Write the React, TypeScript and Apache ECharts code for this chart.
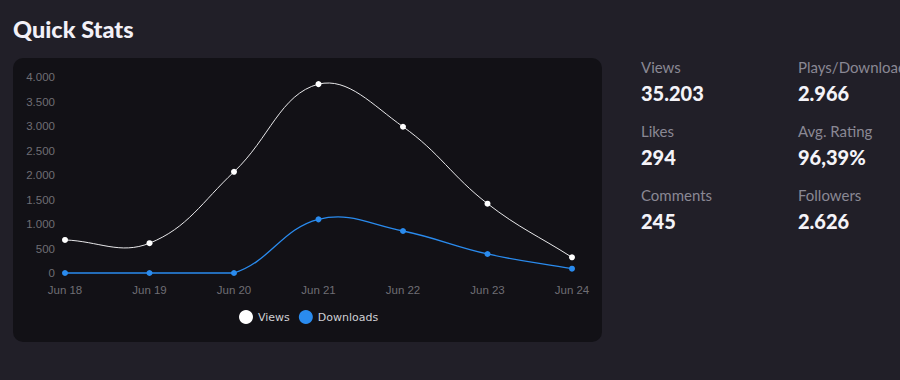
import React, { useEffect, useRef } from "react";
import * as echarts from "echarts";

const categories = ["Jun 18", "Jun 19", "Jun 20", "Jun 21", "Jun 22", "Jun 23", "Jun 24"];
const viewsData = [675, 608, 2065, 3855, 2985, 1415, 320];
const downloadsData = [0, 0, 0, 1095, 857, 388, 88];
const statLabels = ["Views", "Likes", "Comments", "Plays/Downloads", "Avg. Rating", "Followers"];
const statValues = ["35.203", "294", "245", "2.966", "96,39%", "2.626"];

const VIEWS_COLOR = "#ffffff";
const VIEWS_LINE = "#e8e8ea";
const DL_COLOR = "#2a8bee";

const fmt = (v: number) => {
  const s = String(Math.round(v));
  return s.replace(/\B(?=(\d{3})+(?!\d))/g, ".");
};

// Spline with tension, control points capped to the plotting area
function splinePath(pts: number[][], t: number, area: { x: number; y: number; w: number; h: number }) {
  const n = pts.length;
  const cps: { p: number[]; n: number[] }[] = [];
  const cap = (p: number[]) => [
    Math.min(Math.max(p[0], area.x), area.x + area.w),
    Math.min(Math.max(p[1], area.y), area.y + area.h),
  ];
  for (let i = 0; i < n; i++) {
    const prev = pts[Math.max(i - 1, 0)];
    const cur = pts[i];
    const next = pts[Math.min(i + 1, n - 1)];
    const d01 = Math.hypot(cur[0] - prev[0], cur[1] - prev[1]);
    const d12 = Math.hypot(next[0] - cur[0], next[1] - cur[1]);
    let s01 = d01 / (d01 + d12);
    let s12 = d12 / (d01 + d12);
    if (isNaN(s01)) s01 = 0;
    if (isNaN(s12)) s12 = 0;
    const fa = t * s01;
    const fb = t * s12;
    cps.push({
      p: cap([cur[0] - fa * (next[0] - prev[0]), cur[1] - fa * (next[1] - prev[1])]),
      n: cap([cur[0] + fb * (next[0] - prev[0]), cur[1] + fb * (next[1] - prev[1])]),
    });
  }
  let d = `M${pts[0][0]},${pts[0][1]}`;
  for (let i = 1; i < n; i++) {
    const a = cps[i - 1].n;
    const b = cps[i].p;
    d += ` C${a[0]},${a[1]} ${b[0]},${b[1]} ${pts[i][0]},${pts[i][1]}`;
  }
  return d;
}

const curveSeries = (name: string, values: number[], color: string, width: number) => ({
  name,
  type: "custom",
  coordinateSystem: "cartesian2d",
  silent: true,
  z: 1,
  data: [[0, values[0]]],
  renderItem: (params: any, api: any) => {
    const pts = values.map((v, i) => api.coord([i, v]));
    const cs = params.coordSys;
    const area = { x: cs.x, y: cs.y, w: cs.width, h: cs.height };
    return {
      type: "path",
      shape: { pathData: splinePath(pts, 0.4, area) },
      style: { fill: "none", stroke: color, lineWidth: width },
    };
  },
});

export default function App() {
  const ref = useRef<HTMLDivElement>(null);
  useEffect(() => {
    if (!ref.current) return;
    const chart = echarts.init(ref.current, null, { renderer: "svg" });
    const statEls: any[] = [];
    statLabels.forEach((lab, i) => {
      const col = Math.floor(i / 3);
      const row = i % 3;
      const x = col === 0 ? 641 : 798;
      const y = 67 + row * 64;
      statEls.push({
        type: "text",
        x,
        y,
        style: {
          text: lab,
          fill: "#8a8894",
          fontFamily: "Lato",
          fontSize: 15,
          align: "left",
          verticalAlign: "middle",
          textAlign: "left",
          textVerticalAlign: "middle",
        },
      });
      statEls.push({
        type: "text",
        x,
        y: y + 26,
        style: {
          text: statValues[i],
          fill: "#f4f3f8",
          fontFamily: "Lato",
          fontWeight: 900,
          fontSize: 20,
          align: "left",
          verticalAlign: "middle",
          textAlign: "left",
          textVerticalAlign: "middle",
        },
      });
    });
    chart.setOption({
      animation: false,
      backgroundColor: "#211f28",
      graphic: [
        {
          type: "rect",
          z: -10,
          shape: { x: 13, y: 58, width: 589, height: 284, r: 10 },
          style: { fill: "#121116" },
        },
        {
          type: "text",
          x: 13,
          y: 29,
          style: {
            text: "Quick Stats",
            fill: "#f2f0f7",
            fontFamily: "Lato",
            fontWeight: 900,
            fontSize: 23.5,
            align: "left",
            verticalAlign: "middle",
            textAlign: "left",
            textVerticalAlign: "middle",
          },
        },
        ...statEls,
      ],
      grid: { left: 65, right: 328, top: 77, bottom: 107, containLabel: false },
      legend: {
        left: 234,
        top: 305,
        icon: "circle",
        itemWidth: 14,
        itemHeight: 14,
        itemGap: 9,
        textStyle: { color: "#cfcfd4", fontSize: 11, fontFamily: "DejaVu Sans" },
        data: ["Views", "Downloads"],
      },
      xAxis: {
        type: "category",
        data: categories,
        boundaryGap: false,
        axisLine: { show: false },
        axisTick: { show: false },
        splitLine: { show: false },
        axisLabel: { color: "#6f6e74", fontSize: 11.5, margin: 11, fontFamily: "Liberation Sans, Arial, sans-serif" },
      },
      yAxis: {
        type: "value",
        min: 0,
        max: 4000,
        interval: 500,
        axisLine: { show: false },
        axisTick: { show: false },
        splitLine: { show: false },
        axisLabel: {
          color: "#6f6e74",
          fontSize: 11.5,
          margin: 10,
          fontFamily: "Liberation Sans, Arial, sans-serif",
          formatter: (v: number) => fmt(v),
        },
      },
      series: [
        {
          name: "Views",
          type: "line",
          data: viewsData,
          symbol: "circle",
          symbolSize: 6,
          z: 3,
          itemStyle: { color: VIEWS_COLOR },
          lineStyle: { opacity: 0 },
        },
        {
          name: "Downloads",
          type: "line",
          data: downloadsData,
          symbol: "circle",
          symbolSize: 6,
          z: 3,
          itemStyle: { color: DL_COLOR },
          lineStyle: { opacity: 0 },
        },
        curveSeries("views-curve", viewsData, VIEWS_LINE, 1),
        curveSeries("downloads-curve", downloadsData, DL_COLOR, 1.3),
      ],
    });
    return () => chart.dispose();
  }, []);
  return (
    <div
      ref={ref}
      style={{ position: "fixed", left: 0, top: 0, width: 900, height: 380, overflow: "hidden" }}
    />
  );
}
